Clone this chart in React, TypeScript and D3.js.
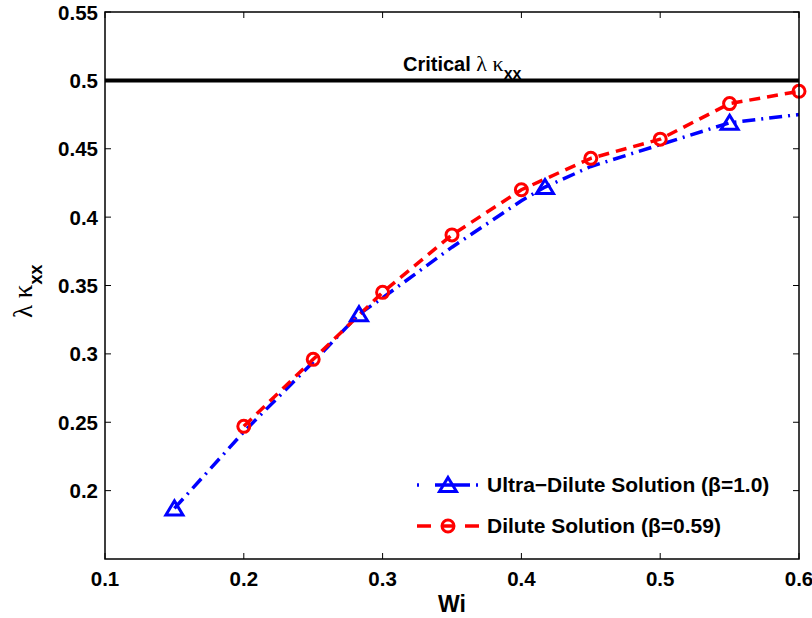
import React from "react";
import * as d3 from "d3";

const xTicks = [0.1, 0.2, 0.3, 0.4, 0.5, 0.6];
const yTicks = [0.2, 0.25, 0.3, 0.35, 0.4, 0.45, 0.5, 0.55];
const yTickLabels = ["0.2", "0.25", "0.3", "0.35", "0.4", "0.45", "0.5", "0.55"];
const xTickLabels = ["0.1", "0.2", "0.3", "0.4", "0.5", "0.6"];

const ultraWi = [0.15, 0.2, 0.25, 0.283, 0.3, 0.35, 0.4, 0.417, 0.45, 0.5, 0.55, 0.6];
const ultraVal = [0.187, 0.243, 0.294, 0.329, 0.341, 0.378, 0.412, 0.422, 0.437, 0.453, 0.469, 0.475];
const ultraMarker = [true, false, false, true, false, false, false, true, false, false, true, false];

const diluteWi = [0.2, 0.25, 0.3, 0.35, 0.4, 0.45, 0.5, 0.55, 0.6];
const diluteVal = [0.247, 0.296, 0.345, 0.387, 0.42, 0.443, 0.457, 0.483, 0.492];

const criticalVal = 0.5;

const W = 812, H = 618;
const M = { left: 105, right: 799, top: 12, bottom: 559 };

export default function App() {
  const x = d3.scaleLinear().domain([0.1, 0.6]).range([M.left, M.right]);
  const y = d3.scaleLinear().domain([0.15, 0.55]).range([M.bottom, M.top]);
  const line = d3.line<[number, number]>().x(d => x(d[0])).y(d => y(d[1]));
  const ultra = ultraWi.map((w, i) => [w, ultraVal[i]] as [number, number]);
  const dilute = diluteWi.map((w, i) => [w, diluteVal[i]] as [number, number]);
  const font = "'Liberation Sans', Arial, Helvetica, sans-serif";
  const serif = "'Liberation Serif', 'DejaVu Serif', serif";
  const tri = "M0,-7.5L8.5,6.5L-8.5,6.5Z";
  const tl = 6;
  return (
    <svg width={W} height={H} style={{ position: "absolute", left: 0, top: 0, background: "#fff" }} fontFamily={font}>
      <rect x={0} y={0} width={W} height={H} fill="#fff" />
      {/* critical line */}
      <line x1={x(0.1)} x2={x(0.6)} y1={y(criticalVal)} y2={y(criticalVal)} stroke="#000" strokeWidth={4} />
      <text x={403} y={71} fontSize={20} fontWeight="bold">
        Critical <tspan fontWeight="normal" fontFamily={serif} fontSize={22}>λ κ</tspan>
        <tspan fontSize={16} dy={8}>xx</tspan>
      </text>
      {/* series */}
      <path d={line(ultra) || ""} fill="none" stroke="#0000ff" strokeWidth={3.5} strokeDasharray="13,6,2,6" />
      <path d={line(dilute) || ""} fill="none" stroke="#ff0000" strokeWidth={3.5} strokeDasharray="11,7" />
      {ultra.map((d, i) => ultraMarker[i] ? (
        <path key={"u" + i} d={tri} transform={`translate(${x(d[0])},${y(d[1])})`} fill="none" stroke="#0000ff" strokeWidth={3} />
      ) : null)}
      {dilute.map((d, i) => (
        <circle key={"d" + i} cx={x(d[0])} cy={y(d[1])} r={6} fill="none" stroke="#ff0000" strokeWidth={3} />
      ))}
      {/* axes box */}
      <rect x={M.left} y={M.top} width={M.right - M.left} height={M.bottom - M.top} fill="none" stroke="#000" strokeWidth={1.5} />
      {xTicks.map((t, i) => (
        <g key={"xt" + i}>
          <line x1={x(t)} x2={x(t)} y1={M.bottom} y2={M.bottom - tl} stroke="#000" strokeWidth={1} />
          <line x1={x(t)} x2={x(t)} y1={M.top} y2={M.top + tl} stroke="#000" strokeWidth={1} />
          <text x={x(t)} y={586} textAnchor="middle" fontSize={20.5} fontWeight="bold">{xTickLabels[i]}</text>
        </g>
      ))}
      {yTicks.map((t, i) => (
        <g key={"yt" + i}>
          <line x1={M.left} x2={M.left + tl} y1={y(t)} y2={y(t)} stroke="#000" strokeWidth={1} />
          <line x1={M.right} x2={M.right - tl} y1={y(t)} y2={y(t)} stroke="#000" strokeWidth={1} />
          <text x={98} y={y(t) + 7.5} textAnchor="end" fontSize={20.5} fontWeight="bold">{yTickLabels[i]}</text>
        </g>
      ))}
      {/* axis labels */}
      <text x={452} y={612} textAnchor="middle" fontSize={23} fontWeight="bold">Wi</text>
      <text transform={`translate(32,318) rotate(-90)`} fontSize={27} fontFamily={serif}>
        λ κ<tspan fontSize={18} fontWeight="bold" fontFamily={font} dy={10}>xx</tspan>
      </text>
      {/* legend */}
      <line x1={417} x2={478} y1={485} y2={485} stroke="#0000ff" strokeWidth={3.5} strokeDasharray="2,16,35,6,2,20" />
      <path d={tri} transform="translate(448,485)" fill="none" stroke="#0000ff" strokeWidth={3} />
      <text x={487} y={492} fontSize={21} fontWeight="bold">Ultra−Dilute Solution (β=1.0)</text>
      <line x1={417} x2={479} y1={526} y2={526} stroke="#ff0000" strokeWidth={3.5} strokeDasharray="14,10" />
      <circle cx={448} cy={526} r={6} fill="none" stroke="#ff0000" strokeWidth={3} />
      <text x={487} y={533} fontSize={21} fontWeight="bold">Dilute Solution (β=0.59)</text>
    </svg>
  );
}
